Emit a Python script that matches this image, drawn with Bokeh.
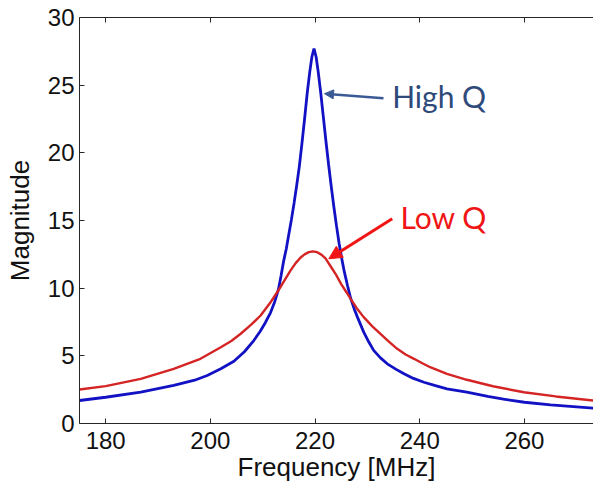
from bokeh.plotting import figure
from bokeh.models import Range1d, FixedTicker, LinearAxis, Arrow, NormalHead, Label
from bokeh.embed import file_html
from bokeh.resources import INLINE

# ---- data ----
high_q_freq = [175.0, 180.0, 186.7, 193.0, 197.0, 199.4, 202.0, 204.5, 206.5, 208.3,
               209.5, 210.5, 211.5, 212.3, 213.0, 213.5, 214.0, 214.5, 215.0, 215.5,
               216.0, 216.5, 217.0, 217.5, 218.0, 218.5, 219.0, 219.4, 219.8, 220.2,
               220.6, 221.1, 221.6, 222.1, 222.6, 223.1, 223.6, 224.1, 224.6, 225.1,
               225.6, 226.2, 226.8, 227.5, 228.1, 229.3, 230.3, 231.2, 232.5, 233.8,
               235.5, 237.0, 238.8, 240.8, 243.0, 245.2, 249.0, 253.0, 256.0, 260.0,
               265.0, 273.2]
high_q_mag = [1.70, 1.94, 2.31, 2.81, 3.20, 3.55, 4.05, 4.60, 5.30, 6.13,
              6.80, 7.45, 8.20, 9.00, 9.90, 10.90, 12.00, 12.90, 14.00, 15.10,
              16.30, 17.60, 19.00, 20.70, 22.50, 24.40, 26.00, 27.10, 27.70, 27.10,
              26.00, 24.40, 22.60, 20.80, 19.10, 17.50, 16.00, 14.60, 13.30, 12.20,
              11.20, 10.20, 9.25, 8.45, 7.86, 6.75, 6.00, 5.40, 4.85, 4.41,
              4.00, 3.67, 3.33, 3.05, 2.80, 2.56, 2.31, 2.00, 1.80, 1.57,
              1.38, 1.13]

low_q_freq = [175.0, 180.0, 186.7, 193.0, 198.1, 202.0, 204.0, 205.8, 207.8, 209.6,
              211.4, 213.1, 214.2, 215.3, 216.3, 217.2, 218.0, 218.8, 219.6, 220.4,
              221.2, 222.0, 223.0, 224.0, 225.0, 226.0, 226.8, 228.0, 229.3, 230.9,
              232.5, 234.1, 235.7, 237.3, 238.9, 240.5, 242.0, 245.2, 249.0, 254.0,
              259.9, 266.0, 273.2]
low_q_mag = [2.51, 2.76, 3.30, 4.04, 4.78, 5.64, 6.10, 6.63, 7.30, 7.98,
             8.90, 9.90, 10.60, 11.30, 11.85, 12.25, 12.50, 12.66, 12.72, 12.66,
             12.48, 12.20, 11.60, 11.00, 10.30, 9.70, 9.21, 8.50, 7.86, 7.20,
             6.63, 6.05, 5.52, 5.10, 4.78, 4.45, 4.16, 3.67, 3.23, 2.75,
             2.31, 2.00, 1.70]

x_ticks = [180, 200, 220, 240, 260]
y_ticks = [0, 5, 10, 15, 20, 25, 30]

AX_FONT = "Liberation Sans"
AX_COLOR = "#262626"

p = figure(width=593, height=491, output_backend="svg", toolbar_location=None,
           x_range=Range1d(175, 273.2), y_range=Range1d(0, 30),
           min_border_left=79, min_border_top=17, min_border_bottom=68, min_border_right=0)
p.outline_line_color = None
p.grid.visible = False
p.background_fill_color = "white"
p.border_fill_color = "white"

for ax in (p.xaxis[0], p.yaxis[0]):
    ax.major_tick_in = 5
    ax.major_tick_out = 0
    ax.minor_tick_line_color = None
    ax.axis_line_color = AX_COLOR
    ax.major_tick_line_color = AX_COLOR
    ax.major_label_text_font = AX_FONT
    ax.major_label_text_font_size = "24px"
    ax.major_label_text_color = "#111111"
    ax.axis_label_text_font = AX_FONT
    ax.axis_label_text_font_size = "26px"
    ax.axis_label_text_font_style = "normal"
    ax.axis_label_text_color = "#111111"

p.xaxis[0].ticker = FixedTicker(ticks=x_ticks)
p.yaxis[0].ticker = FixedTicker(ticks=y_ticks)
p.xaxis[0].axis_label = "Frequency [MHz]"
p.yaxis[0].axis_label = "Magnitude"
p.xaxis[0].major_label_standoff = 8
p.xaxis[0].axis_label_standoff = 0
p.yaxis[0].major_label_standoff = 5
p.yaxis[0].axis_label_standoff = 10

top = LinearAxis(ticker=FixedTicker(ticks=x_ticks), major_tick_in=5, major_tick_out=0,
                 minor_tick_line_color=None, axis_line_color=AX_COLOR,
                 major_tick_line_color=AX_COLOR, major_label_text_font_size="1px",
                 major_label_text_color=None, major_label_standoff=0)
p.add_layout(top, "above")

p.line(high_q_freq, high_q_mag, line_color="#1212C4", line_width=2.8)
p.line(low_q_freq, low_q_mag, line_color="#D42424", line_width=2.4)

# annotations
p.add_layout(Arrow(end=NormalHead(size=9, fill_color="#3A5A96", line_color="#3A5A96"),
                   x_start=233.08, y_start=24.04, x_end=221.81, y_end=24.37,
                   line_color="#3A5A96", line_width=2.5))
p.add_layout(Arrow(end=NormalHead(size=13, fill_color="#F01414", line_color="#F01414"),
                   x_start=234.74, y_start=15.13, x_end=222.63, y_end=12.17,
                   line_color="#F01414", line_width=3))

p.add_layout(Label(x=234.74, y=24.18, text="High Q", text_font="Lato",
                   text_font_size="30px", text_color="#2E4A7A", text_baseline="alphabetic"))
p.add_layout(Label(x=236.32, y=15.25, text="Low Q", text_font="Lato",
                   text_font_size="30px", text_color="#F01414", text_baseline="alphabetic"))

open("out.html", "w").write(file_html(p, INLINE))
